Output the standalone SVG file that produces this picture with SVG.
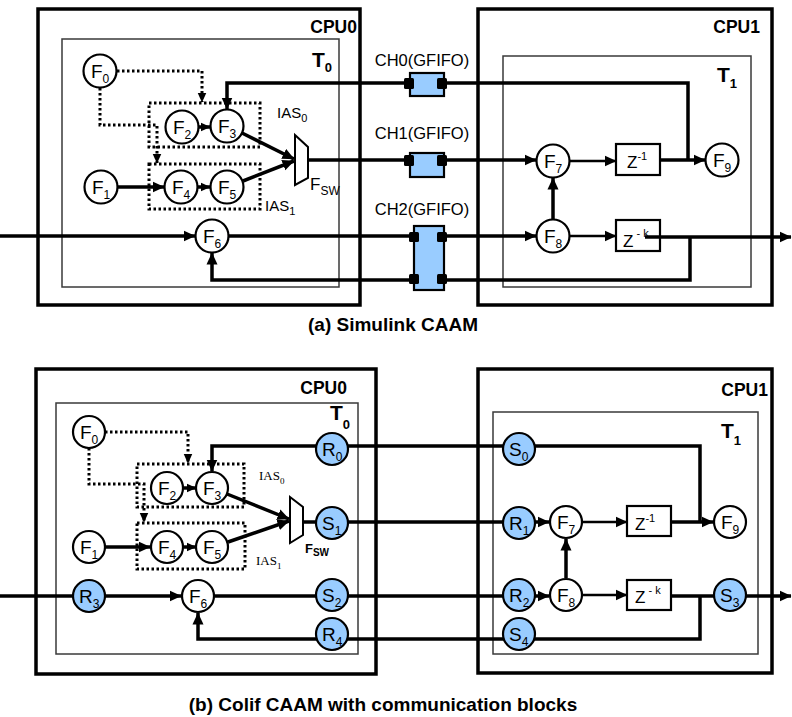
<svg xmlns="http://www.w3.org/2000/svg" width="792" height="717" viewBox="0 0 792 717">
<defs>
<style>
.cpu{fill:none;stroke:#000;stroke-width:3.5}
.task{fill:none;stroke:#3a3a3a;stroke-width:1.5}
.nd{fill:#fff;stroke:#000;stroke-width:2.2}
.cb{fill:#99ccff;stroke:#000;stroke-width:2.2}
.box{fill:#fff;stroke:#000;stroke-width:2.2}
.mux{fill:#fff;stroke:#000;stroke-width:2}
.k{fill:none;stroke:#000;stroke-width:3.5}
.n{fill:none;stroke:#000;stroke-width:2.5}
.dt{fill:none;stroke:#000;stroke-width:3;stroke-dasharray:2.5 2.5}
.port{fill:#000}
text{font-family:"Liberation Sans",Arial,sans-serif;fill:#000}
.f{font-size:19px}
.s{font-size:12px}
.cpuL{font-size:17.5px;font-weight:bold;text-anchor:end}
.tL{font-size:21px;font-weight:bold}
.ch{font-size:16.5px;text-anchor:middle}
.cap{font-size:19px;font-weight:bold;text-anchor:middle}
.ias{font-size:15px}
.iasb{font-size:13px;font-family:"Liberation Serif","Times New Roman",serif}
.z{font-size:17px}
</style>
<marker id="ar" markerUnits="userSpaceOnUse" viewBox="0 0 12 12" markerWidth="12" markerHeight="12" refX="11.5" refY="6" orient="auto"><path d="M0,0.5 L12,6 L0,11.5 z" fill="#000"/></marker>
<marker id="as" markerUnits="userSpaceOnUse" viewBox="0 0 10 10" markerWidth="10" markerHeight="10" refX="9.5" refY="5" orient="auto"><path d="M0,0.5 L10,5 L0,9.5 z" fill="#000"/></marker>
<marker id="ad" markerUnits="userSpaceOnUse" viewBox="0 0 10 10" markerWidth="10" markerHeight="10" refX="9.5" refY="5" orient="auto"><path d="M0,0.5 L10,5 L0,9.5 z" fill="#000"/></marker>
</defs>

<!-- ===== (a) Simulink CAAM ===== -->
<g id="a-cpu0"><rect class="cpu" x="38" y="9" width="322" height="296"/><text class="cpuL" x="357" y="33">CPU0</text></g>
<g id="a-t0"><rect class="task" x="62" y="39" width="277" height="248"/><text class="tL" x="312" y="67">T<tspan font-size="13" dy="5">0</tspan></text></g>
<g id="a-cpu1"><rect class="cpu" x="478" y="9" width="294" height="296"/><text class="cpuL" x="760" y="33">CPU1</text></g>
<g id="a-t1"><rect class="task" x="503" y="56" width="248" height="231"/><text class="tL" x="717" y="82">T<tspan font-size="13" dy="6">1</tspan></text></g>

<g id="a-ias0"><rect class="dt" x="149" y="103" width="111" height="44"/><text class="ias" x="277" y="118">IAS<tspan font-size="11" dy="4">0</tspan></text></g>
<g id="a-ias1"><rect class="dt" x="149" y="164" width="111" height="45"/><text class="ias" x="265" y="211">IAS<tspan font-size="11" dy="4">1</tspan></text></g>

<g id="a-z1"><rect class="box" x="616" y="144" width="44" height="31"/><text class="z" x="627" y="168">Z<tspan font-size="11" dy="-8">-1</tspan></text></g>
<g id="a-zk"><rect class="box" x="616" y="220" width="44" height="31"/><text class="z" x="623" y="247">Z<tspan font-size="11" dy="-10"> - k</tspan></text></g>

<g id="a-connectors">
<path class="k" d="M0,236 H195" marker-end="url(#ar)"/>
<path class="k" d="M229,236 H536" marker-end="url(#ar)"/>
<path class="k" d="M645,237 H791" marker-end="url(#ar)"/>
<path class="k" d="M690,237 V280 H212 V253" marker-end="url(#ar)"/>
<path class="k" d="M688,160 V83 H227 V109" marker-end="url(#ar)"/>
<path class="k" d="M308,160 H536" marker-end="url(#ar)"/>
<path class="k" d="M660,160 H705" marker-end="url(#ar)"/>
<path class="n" d="M570,161 H616" marker-end="url(#ar)"/>
<path class="n" d="M570,236 H616" marker-end="url(#ar)"/>
<path class="k" d="M553,219 V178" marker-end="url(#ar)"/>
<path class="k" d="M118,187 H164" marker-end="url(#ar)"/>
<path class="k" d="M199,127 H210" marker-end="url(#as)"/>
<path class="k" d="M198,187 H210" marker-end="url(#as)"/>
<path class="k" d="M242,133 L294,159" marker-end="url(#ar)"/>
<path class="k" d="M243,181 L294,161" marker-end="url(#ar)"/>
<path class="dt" d="M117,71 H202 V102" marker-end="url(#ad)"/>
<path class="dt" d="M100,88 V125 H157 V163" marker-end="url(#ad)"/>
</g>

<g id="a-F0"><circle class="nd" cx="100" cy="71" r="16.5"/><text class="f" x="91" y="78">F<tspan class="s" dy="5">0</tspan></text></g>
<g id="a-F1"><circle class="nd" cx="101" cy="187" r="16.5"/><text class="f" x="92" y="194">F<tspan class="s" dy="5">1</tspan></text></g>
<g id="a-F2"><circle class="nd" cx="182" cy="127" r="16.5"/><text class="f" x="173" y="134">F<tspan class="s" dy="5">2</tspan></text></g>
<g id="a-F3"><circle class="nd" cx="227" cy="126" r="16.5"/><text class="f" x="218" y="133">F<tspan class="s" dy="5">3</tspan></text></g>
<g id="a-F4"><circle class="nd" cx="181" cy="187" r="16.5"/><text class="f" x="172" y="194">F<tspan class="s" dy="5">4</tspan></text></g>
<g id="a-F5"><circle class="nd" cx="227" cy="187" r="16.5"/><text class="f" x="218" y="194">F<tspan class="s" dy="5">5</tspan></text></g>
<g id="a-F6"><circle class="nd" cx="212" cy="236" r="16.5"/><text class="f" x="203" y="243">F<tspan class="s" dy="5">6</tspan></text></g>
<g id="a-F7"><circle class="nd" cx="553" cy="161" r="16.5"/><text class="f" x="544" y="168">F<tspan class="s" dy="5">7</tspan></text></g>
<g id="a-F8"><circle class="nd" cx="553" cy="236" r="16.5"/><text class="f" x="544" y="243">F<tspan class="s" dy="5">8</tspan></text></g>
<g id="a-F9"><circle class="nd" cx="722" cy="160" r="16.5"/><text class="f" x="713" y="167">F<tspan class="s" dy="5">9</tspan></text></g>
<g id="a-Fsw"><polygon class="mux" points="295,135 308,147 308,178 295,185"/><text x="310" y="190" font-size="17">F<tspan class="s" dy="5">SW</tspan></text></g>

<g id="a-ch0"><text class="ch" x="422" y="66">CH0(GFIFO)</text><rect class="cb" x="410" y="73" width="34" height="23"/><rect class="port" x="404" y="78" width="10" height="11" rx="1.5"/><rect class="port" x="437" y="78" width="10" height="11" rx="1.5"/></g>
<g id="a-ch1"><text class="ch" x="422" y="139">CH1(GFIFO)</text><rect class="cb" x="410" y="153" width="34" height="24"/><rect class="port" x="404" y="155" width="10" height="11" rx="1.5"/><rect class="port" x="437" y="155" width="10" height="11" rx="1.5"/></g>
<g id="a-ch2"><text class="ch" x="422" y="215">CH2(GFIFO)</text><rect class="cb" x="414" y="226" width="30" height="64"/><rect class="port" x="409" y="232" width="10" height="10" rx="1.5"/><rect class="port" x="437" y="232" width="10" height="10" rx="1.5"/><rect class="port" x="409" y="274" width="10" height="10" rx="1.5"/><rect class="port" x="437" y="274" width="10" height="10" rx="1.5"/></g>

<text class="cap" x="393" y="331">(a) Simulink CAAM</text>

<!-- ===== (b) Colif CAAM ===== -->
<g id="b-cpu0"><rect class="cpu" x="36" y="369" width="340" height="305"/><text class="cpuL" x="347" y="394">CPU0</text></g>
<g id="b-t0"><rect class="task" x="56" y="403" width="302" height="251"/><text class="tL" x="330" y="420">T<tspan font-size="13" dy="9">0</tspan></text></g>
<g id="b-cpu1"><rect class="cpu" x="478" y="369" width="294" height="304"/><text class="cpuL" x="768" y="396">CPU1</text></g>
<g id="b-t1"><rect class="task" x="493" y="412" width="265" height="242"/><text class="tL" x="721" y="438">T<tspan font-size="13" dy="7">1</tspan></text></g>

<g id="b-ias0"><rect class="dt" x="137" y="464" width="107" height="43"/><text class="iasb" x="259" y="480">IAS<tspan font-size="9" dy="4">0</tspan></text></g>
<g id="b-ias1"><rect class="dt" x="137" y="523" width="108" height="46"/><text class="iasb" x="256" y="565">IAS<tspan font-size="9" dy="4">1</tspan></text></g>

<g id="b-z1"><rect class="box" x="627" y="506" width="44" height="30"/><text class="z" x="635" y="530">Z<tspan font-size="11" dy="-8">-1</tspan></text></g>
<g id="b-zk"><rect class="box" x="627" y="580" width="44" height="30"/><text class="z" x="635" y="603">Z<tspan font-size="11" dy="-9"> - k</tspan></text></g>

<g id="b-connectors">
<path class="k" d="M0,596 H181" marker-end="url(#ar)"/>
<path class="k" d="M215,596 H549" marker-end="url(#ar)"/>
<path class="k" d="M303,522 H549" marker-end="url(#ar)"/>
<path class="k" d="M671,596 H791" marker-end="url(#ar)"/>
<path class="k" d="M700,596 V639 H198 V613" marker-end="url(#ar)"/>
<path class="k" d="M700,522 V446 H212 V471" marker-end="url(#ar)"/>
<path class="k" d="M671,522 H713" marker-end="url(#ar)"/>
<path class="n" d="M583,522 H627" marker-end="url(#ar)"/>
<path class="n" d="M583,595 H627" marker-end="url(#ar)"/>
<path class="k" d="M566,578 V539" marker-end="url(#ar)"/>
<path class="k" d="M105,547 H150" marker-end="url(#ar)"/>
<path class="k" d="M184,488 H196" marker-end="url(#as)"/>
<path class="k" d="M184,547 H196" marker-end="url(#as)"/>
<path class="k" d="M227,494 L289,519" marker-end="url(#ar)"/>
<path class="k" d="M228,542 L289,521" marker-end="url(#ar)"/>
<path class="dt" d="M105,432 H188 V463" marker-end="url(#ad)"/>
<path class="dt" d="M89,448 V484 H144 V522" marker-end="url(#ad)"/>
</g>

<g id="b-F0"><circle class="nd" cx="89" cy="432" r="16"/><text class="f" x="80" y="439">F<tspan class="s" dy="5">0</tspan></text></g>
<g id="b-F1"><circle class="nd" cx="89" cy="547" r="16"/><text class="f" x="80" y="554">F<tspan class="s" dy="5">1</tspan></text></g>
<g id="b-F2"><circle class="nd" cx="167" cy="488" r="16"/><text class="f" x="158" y="495">F<tspan class="s" dy="5">2</tspan></text></g>
<g id="b-F3"><circle class="nd" cx="212" cy="488" r="16"/><text class="f" x="203" y="495">F<tspan class="s" dy="5">3</tspan></text></g>
<g id="b-F4"><circle class="nd" cx="167" cy="547" r="16"/><text class="f" x="158" y="554">F<tspan class="s" dy="5">4</tspan></text></g>
<g id="b-F5"><circle class="nd" cx="212" cy="547" r="16"/><text class="f" x="203" y="554">F<tspan class="s" dy="5">5</tspan></text></g>
<g id="b-F6"><circle class="nd" cx="198" cy="596" r="16"/><text class="f" x="189" y="603">F<tspan class="s" dy="5">6</tspan></text></g>
<g id="b-F7"><circle class="nd" cx="566" cy="522" r="16"/><text class="f" x="557" y="529">F<tspan class="s" dy="5">7</tspan></text></g>
<g id="b-F8"><circle class="nd" cx="566" cy="595" r="16"/><text class="f" x="557" y="602">F<tspan class="s" dy="5">8</tspan></text></g>
<g id="b-F9"><circle class="nd" cx="730" cy="522" r="16"/><text class="f" x="721" y="529">F<tspan class="s" dy="5">9</tspan></text></g>
<g id="b-Fsw"><polygon class="mux" points="290,497 303,507 303,535 290,543"/><text x="305" y="553" font-size="13" font-weight="bold">F<tspan font-size="10" dy="3">SW</tspan></text></g>

<g id="b-R3"><circle class="cb" cx="89" cy="596" r="16"/><text class="f" x="79" y="603">R<tspan class="s" dy="5">3</tspan></text></g>
<g id="b-R0"><circle class="cb" cx="332" cy="449" r="16"/><text class="f" x="322" y="456">R<tspan class="s" dy="5">0</tspan></text></g>
<g id="b-S1"><circle class="cb" cx="332" cy="523" r="16"/><text class="f" x="322" y="530">S<tspan class="s" dy="5">1</tspan></text></g>
<g id="b-S2"><circle class="cb" cx="332" cy="595" r="16"/><text class="f" x="322" y="602">S<tspan class="s" dy="5">2</tspan></text></g>
<g id="b-R4"><circle class="cb" cx="332" cy="634" r="16"/><text class="f" x="322" y="641">R<tspan class="s" dy="5">4</tspan></text></g>
<g id="b-S0"><circle class="cb" cx="519" cy="449" r="16"/><text class="f" x="509" y="456">S<tspan class="s" dy="5">0</tspan></text></g>
<g id="b-R1"><circle class="cb" cx="519" cy="523" r="16"/><text class="f" x="509" y="530">R<tspan class="s" dy="5">1</tspan></text></g>
<g id="b-R2"><circle class="cb" cx="519" cy="595" r="16"/><text class="f" x="509" y="602">R<tspan class="s" dy="5">2</tspan></text></g>
<g id="b-S4"><circle class="cb" cx="519" cy="634" r="16"/><text class="f" x="509" y="641">S<tspan class="s" dy="5">4</tspan></text></g>
<g id="b-S3"><circle class="cb" cx="730" cy="595" r="16"/><text class="f" x="720" y="602">S<tspan class="s" dy="5">3</tspan></text></g>

<text class="cap" x="383" y="711">(b) Colif CAAM with communication blocks</text>
</svg>
